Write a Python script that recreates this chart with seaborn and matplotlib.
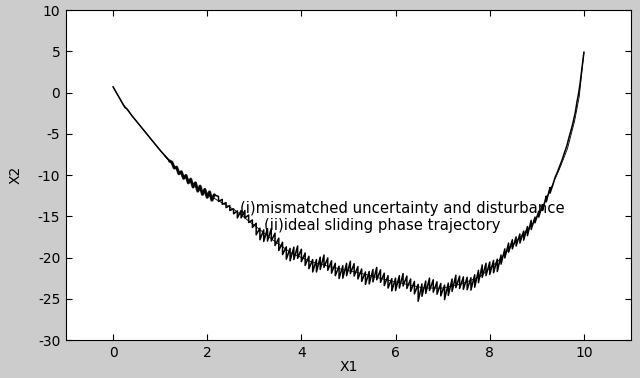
import numpy as np
import pandas as pd
import seaborn as sns
import matplotlib.pyplot as plt

# ideal sliding phase trajectory (smooth curve)
ideal_x1 = [0.0, 0.2, 0.4, 0.7, 1.0, 1.4, 1.8, 2.2, 2.6, 3.0, 3.4, 3.8, 4.2, 4.6, 5.0, 5.4,
            5.8, 6.2, 6.6, 7.0, 7.4, 7.8, 8.2, 8.6, 8.9, 9.1, 9.3, 9.5, 9.65, 9.8, 9.9, 10.0]
ideal_x2 = [0.7, -1.3, -2.8, -4.9, -7.0, -9.6, -11.6, -13.0, -14.3, -16.1, -17.9, -19.5, -20.5,
            -21.1, -21.6, -22.1, -22.7, -23.2, -23.7, -23.7, -23.2, -22.3, -20.3, -17.8, -16.0,
            -14.2, -11.6, -9.0, -6.8, -3.5, -0.5, 4.9]

# mismatched uncertainty and disturbance: start of the trajectory
head_x1 = [0.0, 0.1, 0.2, 0.25, 0.3, 0.4, 0.5, 0.6, 0.7, 0.8, 0.9, 1.0, 1.1, 1.2,
           1.25, 1.30, 1.35, 1.40, 1.45, 1.50, 1.55, 1.60, 1.65, 1.70, 1.75, 1.80, 1.85,
           1.90, 1.95, 2.00, 2.05, 2.10, 2.15]
head_x2 = [0.7, -0.3, -1.3, -1.8, -2.0, -2.8, -3.5, -4.2, -4.9, -5.6, -6.3, -7.0, -7.65, -8.3,
           -8.45, -9.15, -9.05, -9.85, -9.6, -10.4, -10.05, -10.95, -10.5, -11.45, -10.95,
           -11.95, -11.35, -12.35, -11.75, -12.7, -12.05, -13.05, -12.4]

# chattering spikes (top and bottom of each spike)
spike_x1 = [2.24, 2.32, 2.40, 2.48, 2.56, 2.64, 2.72, 2.80, 2.88, 2.96,
            3.04, 3.12, 3.20, 3.28, 3.36, 3.44, 3.52, 3.60, 3.68, 3.76,
            3.84, 3.92, 4.00, 4.08, 4.16, 4.24, 4.32, 4.40, 4.48, 4.56,
            4.64, 4.72, 4.80, 4.88, 4.96, 5.04, 5.12, 5.20, 5.28, 5.36,
            5.44, 5.52, 5.60, 5.68, 5.76, 5.84, 5.92, 6.00, 6.08, 6.16,
            6.24, 6.32, 6.40, 6.48, 6.56, 6.64, 6.72, 6.80, 6.88, 6.96,
            7.04, 7.12, 7.20, 7.28, 7.36, 7.44, 7.52, 7.60, 7.68, 7.76,
            7.84, 7.92, 8.00, 8.08, 8.16, 8.24, 8.32, 8.40, 8.48, 8.56,
            8.64, 8.72, 8.80, 8.88, 8.96, 9.04, 9.12, 9.20, 9.28]
spike_top = [-12.6, -12.95, -13.35, -13.7, -14.1, -14.35, -14.3, -14.3, -14.85, -15.45,
             -15.85, -16.45, -16.65, -16.5, -16.5, -17.05, -17.65, -18.15, -18.7, -18.9,
             -18.75, -18.6, -19.0, -19.45, -19.85, -20.25, -20.25, -19.95, -19.7, -20.05,
             -20.4, -20.7, -21.05, -21.0, -20.7, -20.45, -20.75, -21.1, -21.4, -21.75,
             -21.7, -21.45, -21.2, -21.5, -21.9, -22.2, -22.55, -22.5, -22.2, -21.95,
             -22.25, -22.6, -22.9, -23.25, -23.2, -22.85, -22.5, -22.7, -22.95, -23.15,
             -23.35, -23.1, -22.6, -22.15, -22.25, -22.35, -22.4, -22.45, -22.1, -21.55,
             -20.9, -20.7, -20.55, -20.35, -20.2, -19.7, -18.95, -18.25, -17.85, -17.5,
             -17.15, -16.8, -16.25, -15.5, -15.1, -14.4, -13.6, -12.55, -11.5]
spike_bot = [-13.2, -13.55, -13.95, -14.3, -14.7, -15.2, -15.2, -15.2, -15.75, -16.35,
             -17.25, -17.85, -18.05, -18.0, -18.0, -18.55, -19.15, -19.65, -20.2, -20.4,
             -20.25, -20.1, -20.5, -20.95, -21.35, -21.75, -21.75, -21.45, -21.2, -21.55,
             -21.9, -22.2, -22.55, -22.5, -22.2, -21.95, -22.25, -22.6, -22.9, -23.25,
             -23.2, -22.95, -22.7, -23.0, -23.4, -23.7, -24.05, -24.0, -23.7, -23.45,
             -23.75, -24.1, -24.4, -25.3, -24.7, -24.35, -24.0, -24.2, -24.45, -24.65,
             -25.1, -24.6, -24.1, -23.65, -23.75, -23.85, -23.9, -23.95, -23.6, -23.05,
             -22.4, -22.2, -22.05, -21.85, -21.7, -20.8, -20.05, -19.35, -18.95, -18.6,
             -18.25, -17.9, -17.35, -16.6, -15.8, -15.1, -14.3, -13.25, -12.2]

# last steep part up to the end point
tail_x1 = [9.34, 9.38, 9.44, 9.48, 9.54, 9.58, 9.64, 9.68, 9.73, 9.77, 9.82, 9.85, 9.89,
           9.92, 9.96, 10.0]
tail_x2 = [-11.2, -10.4, -9.6, -9.0, -8.1, -7.4, -6.4, -5.5, -4.5, -3.6, -2.3, -1.2, 0.0,
           1.2, 3.0, 4.9]

x_ticks = [0, 2, 4, 6, 8, 10]
y_ticks = [-30, -25, -20, -15, -10, -5, 0, 5, 10]

# spike polyline: up to the top, straight down to the bottom, on to the next spike
spk_x = np.column_stack([spike_x1, spike_x1]).ravel()
spk_y = np.column_stack([spike_top, spike_bot]).ravel()
chat = pd.DataFrame({
    'X1': np.concatenate([head_x1[-21:], spk_x, tail_x1]),
    'X2': np.concatenate([head_x2[-21:], spk_y, tail_x2]),
})
start = pd.DataFrame({'X1': head_x1[:14], 'X2': head_x2[:14]})
band = pd.DataFrame({'X1': head_x1[13:], 'X2': head_x2[13:]})
ideal = pd.DataFrame({'X1': ideal_x1, 'X2': ideal_x2})

sns.set_theme(style="ticks")
plt.rcParams['font.family'] = ['DejaVu Sans']
plt.rcParams['axes.unicode_minus'] = False
plt.rcParams['text.color'] = 'black'
plt.rcParams['axes.labelcolor'] = 'black'

fig = plt.figure(figsize=(6.4, 3.78), dpi=100, facecolor='#cccccc')
ax = fig.add_axes([0.103, 0.1005, 0.883, 0.873])
ax.set_facecolor('white')

sns.lineplot(data=start, x='X1', y='X2', sort=False, estimator=None, color='black',
             linewidth=1.1, ax=ax)
sns.lineplot(data=band, x='X1', y='X2', sort=False, estimator=None, color='#222222',
             linewidth=2.2, ax=ax)
sns.lineplot(data=chat, x='X1', y='X2', sort=False, estimator=None, color='black',
             linewidth=1.1, ax=ax)
sns.lineplot(data=ideal, x='X1', y='X2', sort=False, estimator=None, color='black',
             linewidth=0.6, ax=ax)

ax.set_xlim(-1, 11)
ax.set_ylim(-30, 10)
ax.set_xticks(x_ticks)
ax.set_yticks(y_ticks)
ax.tick_params(direction='in', length=4, width=0.8, top=True, right=True,
               labelsize=10, colors='black', pad=4)
for s in ax.spines.values():
    s.set_visible(True)
    s.set_color('black')
    s.set_linewidth(0.8)

ax.set_xlabel('X1', fontsize=10, labelpad=0, color='black')
ax.set_ylabel('X2', fontsize=10, labelpad=11, color='black')

ax.text(2.7, -14.1, '(i)mismatched uncertainty and disturbance', fontsize=10.7,
        va='center', ha='left', color='black')
ax.text(3.2, -16.1, '(ii)ideal sliding phase trajectory', fontsize=10.7,
        va='center', ha='left', color='black')

fig.savefig('out.png', dpi=100, facecolor=fig.get_facecolor())
